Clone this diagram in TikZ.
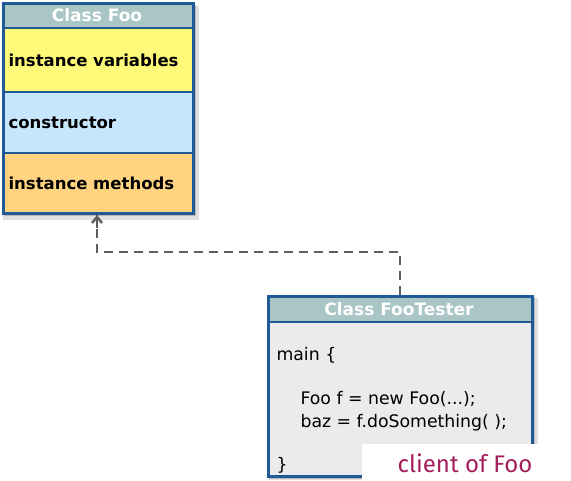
\documentclass[tikz,border=0pt]{standalone}
\usepackage{fontspec}
\setmainfont{DejaVu Sans}
\newfontfamily\clientfont{Fira Sans}
\usetikzlibrary{arrows.meta}
\definecolor{bordercol}{HTML}{1F5A96}
\definecolor{headcol}{HTML}{A9C5C5}
\definecolor{yel}{HTML}{FFF97A}
\definecolor{blu}{HTML}{C6E7FB}
\definecolor{ora}{HTML}{FFD37F}
\definecolor{bodygray}{HTML}{EBEBEB}
\definecolor{linegray}{HTML}{5F5F5F}
\definecolor{clientcol}{HTML}{A51E5C}
\tikzset{
  px/.style={x=1pt,y=-1pt},
  boxline/.style={draw=bordercol,line width=2.5pt},
  shadowA/.style={fill=black,opacity=0.12},
  shadowB/.style={fill=black,opacity=0.18},
  headtext/.style={text=white,font=\fontsize{17}{19}\selectfont\bfseries},
  celltext/.style={anchor=west,font=\fontsize{16.5}{18}\selectfont\bfseries},
  codetext/.style={anchor=base west,font=\fontsize{17.3}{19}\selectfont},
  depline/.style={draw=linegray,line width=2.5pt,dash pattern=on 9pt off 6pt},
}
\begin{document}
\begin{tikzpicture}[px]
\useasboundingbox (0,0) rectangle (571,480);
% Class Foo
\fill[shadowA] (3,6) rectangle (199,220);
\fill[shadowB] (4,5) rectangle (196,216);
\fill[headcol] (2,2) rectangle (192,28);
\fill[yel] (2,28) rectangle (192,92);
\fill[blu] (2,92) rectangle (192,153);
\fill[ora] (2,153) rectangle (192,212);
\draw[boxline] (2,28) -- (192,28) (2,92) -- (192,92) (2,153) -- (192,153);
\node[boxline,minimum width=190pt,minimum height=210pt,anchor=north west,inner sep=0pt] (foo) at (2,2) {};
\node[headtext] (foohead) at (97,15) {Class Foo};
\node[celltext] (iv) at (5,60) {instance variables};
\node[celltext] (ctor) at (5,123) {constructor};
\node[celltext] (im) at (5,183) {instance methods};
% Class FooTester
\fill[shadowA] (268,298) rectangle (538,480);
\fill[shadowB] (269,297) rectangle (535,479);
\fill[bodygray] (267,322) rectangle (531,475);
\fill[headcol] (267,295) rectangle (531,322);
\draw[boxline] (267,322) -- (531,322);
\node[boxline,minimum width=264pt,minimum height=180pt,anchor=north west,inner sep=0pt] (tester) at (267,295) {};
\node[headtext] (testerhead) at (399,309) {Class FooTester};
\node[codetext] (l1) at (273,360) {main \{};
\node[codetext] (l2) at (297,404) {Foo f = new Foo(...);};
\node[codetext] (l3) at (297,427) {baz = f.doSomething( );};
\node[codetext] (l4) at (273,470) {\}};
% dependency
\coordinate (c1) at (400,252);
\coordinate (c2) at (97,252);
\coordinate (tip) at (97,215);
\draw[depline] (tester.north -| c1) -- (c1) -- (c2) -- (tip);
\draw[draw=linegray,line width=2.5pt,-{Straight Barb[length=6pt,width=10pt]}] (97,228) -- (tip);
% client label
\fill[white] (362,444) rectangle (571,480);
\node[text=clientcol,font=\clientfont\fontsize{24}{26}\selectfont] (client) at (465,463) {client of Foo};
\end{tikzpicture}
\end{document}
